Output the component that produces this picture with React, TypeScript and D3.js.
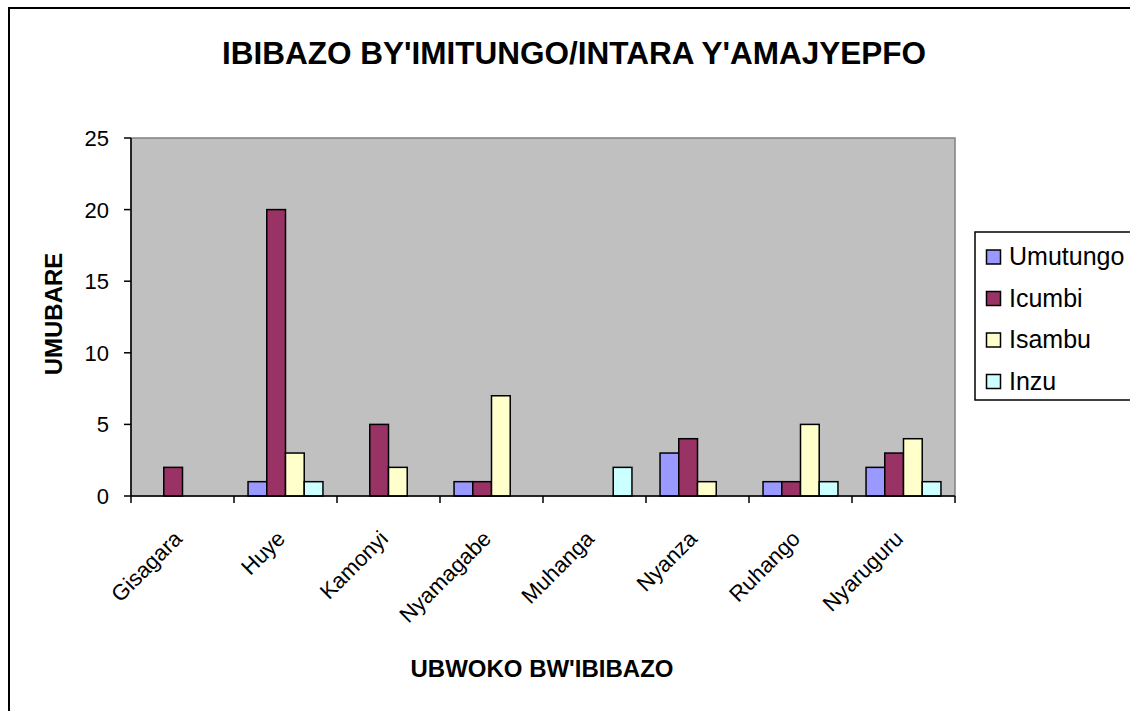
import React from "react";
import * as d3 from "d3";

// districts along the x axis
const districts = [
  "Gisagara",
  "Huye",
  "Kamonyi",
  "Nyamagabe",
  "Muhanga",
  "Nyanza",
  "Ruhango",
  "Nyaruguru",
];

const seriesNames = ["Umutungo", "Icumbi", "Isambu", "Inzu"];
const seriesColors = ["#9999FF", "#993366", "#FFFFCC", "#CCFFFF"];

// one array per series, in district order
const umutungo = [0, 1, 0, 1, 0, 3, 1, 2];
const icumbi = [2, 20, 5, 1, 0, 4, 1, 3];
const isambu = [0, 3, 2, 7, 0, 1, 5, 4];
const inzu = [0, 1, 0, 0, 2, 0, 1, 1];

const yTicks = [0, 5, 10, 15, 20, 25];

const FONT = "'Liberation Sans', Arial, sans-serif";

const App = () => {
  const values = [umutungo, icumbi, isambu, inzu];

  const plot = { left: 131, right: 955, top: 138, bottom: 496 };

  const xScale = d3
    .scaleBand<string>()
    .domain(districts)
    .range([plot.left, plot.right])
    .padding(0);

  // 4 bars, 150% gap split on both sides
  const inner = d3
    .scaleBand<string>()
    .domain(seriesNames)
    .range([0, xScale.bandwidth()])
    .paddingInner(0)
    .paddingOuter(0.75);

  const yScale = d3
    .scaleLinear()
    .domain([0, 25])
    .range([plot.bottom, plot.top]);

  const boundaries = districts
    .map((d) => xScale(d) as number)
    .concat([plot.right]);

  return (
    <svg
      width={1130}
      height={711}
      style={{ position: "absolute", left: 0, top: 0 }}
    >
      <rect x={0} y={0} width={1130} height={711} fill="#fff" />
      {/* chart frame */}
      <rect
        x={9}
        y={8}
        width={1200}
        height={800}
        fill="none"
        stroke="#000"
        strokeWidth={2}
      />

      <text
        x={574}
        y={64}
        textAnchor="middle"
        fontFamily={FONT}
        fontWeight="bold"
        fontSize={31.5}
      >
        IBIBAZO BY'IMITUNGO/INTARA Y'AMAJYEPFO
      </text>

      {/* plot area */}
      <rect
        x={plot.left}
        y={plot.top}
        width={plot.right - plot.left}
        height={plot.bottom - plot.top}
        fill="#C0C0C0"
        stroke="#808080"
        strokeWidth={1.5}
      />

      {/* bars */}
      {districts.map((d, i) => (
        <g key={d}>
          {seriesNames.map((s, j) => {
            const v = values[j][i];
            if (!v) return null;
            const x = (xScale(d) as number) + (inner(s) as number);
            return (
              <rect
                key={s}
                x={x}
                y={yScale(v)}
                width={inner.bandwidth()}
                height={yScale(0) - yScale(v)}
                fill={seriesColors[j]}
                stroke="#000"
                strokeWidth={1.5}
              />
            );
          })}
        </g>
      ))}

      {/* y axis */}
      <line
        x1={plot.left}
        x2={plot.left}
        y1={plot.top}
        y2={plot.bottom}
        stroke="#000"
        strokeWidth={1.5}
      />
      {yTicks.map((t) => (
        <g key={t}>
          <line
            x1={plot.left - 7}
            x2={plot.left}
            y1={yScale(t)}
            y2={yScale(t)}
            stroke="#000"
            strokeWidth={1.5}
          />
          <text
            x={109}
            y={yScale(t) + 8}
            textAnchor="end"
            fontFamily={FONT}
            fontSize={22}
          >
            {t}
          </text>
        </g>
      ))}

      {/* x axis */}
      <line
        x1={plot.left}
        x2={plot.right}
        y1={plot.bottom}
        y2={plot.bottom}
        stroke="#000"
        strokeWidth={1.5}
      />
      {boundaries.map((b, i) => (
        <line
          key={i}
          x1={b}
          x2={b}
          y1={plot.bottom}
          y2={plot.bottom + 7}
          stroke="#000"
          strokeWidth={1.5}
        />
      ))}
      {districts.map((d) => {
        const cx = (xScale(d) as number) + xScale.bandwidth() / 2;
        const ax = cx + 1;
        const ay = 540;
        return (
          <text
            key={d}
            x={ax}
            y={ay}
            textAnchor="end"
            fontFamily={FONT}
            fontSize={22}
            transform={`rotate(-45 ${ax} ${ay})`}
          >
            {d}
          </text>
        );
      })}

      <text
        x={542}
        y={677}
        textAnchor="middle"
        fontFamily={FONT}
        fontWeight="bold"
        fontSize={24}
      >
        UBWOKO BW'IBIBAZO
      </text>

      <text
        x={62}
        y={314}
        textAnchor="middle"
        fontFamily={FONT}
        fontWeight="bold"
        fontSize={24}
        transform="rotate(-90 62 314)"
      >
        UMUBARE
      </text>

      {/* legend */}
      <rect
        x={975}
        y={232}
        width={200}
        height={168}
        fill="#fff"
        stroke="#000"
        strokeWidth={1.5}
      />
      {seriesNames.map((s, j) => {
        const cy = 257 + j * 41.5;
        return (
          <g key={s}>
            <rect
              x={986.5}
              y={cy - 7}
              width={14}
              height={14}
              fill={seriesColors[j]}
              stroke="#000"
              strokeWidth={1.5}
            />
            <text
              x={1009}
              y={cy + 8}
              fontFamily={FONT}
              fontSize={25}
            >
              {s}
            </text>
          </g>
        );
      })}
    </svg>
  );
};

export default App;
